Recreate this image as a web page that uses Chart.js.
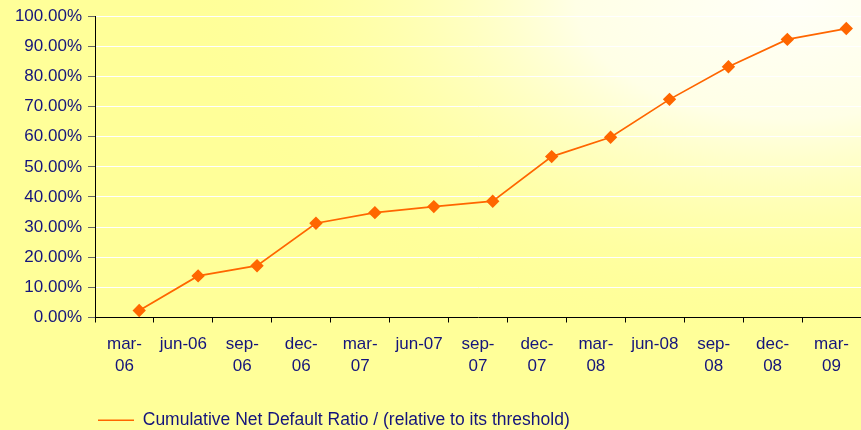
<!DOCTYPE html>
<html><head><meta charset="utf-8">
<script src="https://cdn.jsdelivr.net/npm/chart.js@4/dist/chart.umd.min.js"></script>
<style>html,body{margin:0;padding:0;background:#FFFF99;overflow:hidden}</style>
</head><body><canvas id="c" width="861" height="430"></canvas>
<script>
const categories = [["mar-","06"],"jun-06",["sep-","06"],["dec-","06"],["mar-","07"],"jun-07",["sep-","07"],["dec-","07"],["mar-","08"],"jun-08",["sep-","08"],["dec-","08"],["mar-","09"]];
const seriesName = "Cumulative Net Default Ratio / (relative to its threshold)";
const cndrValues = [0.023,0.138,0.172,0.313,0.348,0.368,0.386,0.534,0.598,0.724,0.832,0.923,0.959];
const yMin = 0, yMax = 1, yStep = 0.1;

const textColor = '#14147C';
const lineColor = '#FF6600';
const fontFamily = '"Liberation Sans", Arial, sans-serif';

const bgPlugin = {
  id: 'bg',
  beforeDraw(chart) {
    const ctx = chart.ctx, w = chart.width, h = chart.height;
    ctx.save();
    ctx.fillStyle = '#FFFF99';
    ctx.fillRect(0, 0, w, h);
    ctx.translate(790, 0);
    ctx.scale(1.8, 1);
    const g = ctx.createRadialGradient(0, 0, 0, 0, 0, 340);
    g.addColorStop(0, '#FFFFF8');
    g.addColorStop(0.35, '#FFFFE6');
    g.addColorStop(1, 'rgba(255,255,153,0)');
    ctx.fillStyle = g;
    ctx.fillRect(-500, -10, 1000, 450);
    ctx.restore();
  }
};

new Chart(document.getElementById('c'), {
  type: 'line',
  data: {
    labels: categories,
    datasets: [{
      label: seriesName,
      data: cndrValues.map((v, i) => ({x: i, y: v})),
      xAxisID: 'xp',
      borderColor: lineColor,
      backgroundColor: lineColor,
      borderWidth: 1.7,
      pointStyle: 'rectRot',
      pointRadius: 5.5,
      pointHoverRadius: 5.5,
      pointBackgroundColor: lineColor,
      pointBorderColor: lineColor,
      tension: 0,
      fill: false
    }]
  },
  options: {
    responsive: false,
    animation: false,
    layout: {autoPadding: false, padding: {left: 0, right: 0, top: 14, bottom: -9}},
    plugins: {
      tooltip: {enabled: false},
      legend: {
        position: 'bottom',
        align: 'start',
        fullSize: false,
        labels: {
          usePointStyle: true,
          pointStyle: 'line',
          pointStyleWidth: 36,
          color: textColor,
          font: {family: fontFamily, size: 17.5},
          padding: 3
        }
      }
    },
    scales: {
      x: {
        type: 'category',
        position: 'bottom',
        offset: true,
        grid: {offset: true, drawOnChartArea: false, tickLength: 5, tickColor: '#000', lineWidth: 1},
        border: {color: '#000', width: 1},
        ticks: {color: textColor, font: {family: fontFamily, size: 17, lineHeight: 1.3}, padding: 10.5, maxRotation: 0, autoSkip: false},
        afterFit(s) { s.height = 91; s.paddingLeft = 0; s.paddingRight = 0; }
      },
      xp: {
        type: 'linear',
        display: false,
        min: -0.75,
        max: 12.25
      },
      y: {
        min: yMin, max: yMax,
        ticks: {
          stepSize: yStep,
          color: textColor,
          font: {family: fontFamily, size: 17},
          padding: 6,
          callback: v => (v * 100).toFixed(2) + '%'
        },
        grid: {
          color: c => (c.tick && c.tick.value === 0) ? 'rgba(0,0,0,0)' : '#FFFFFF',
          tickColor: '#666',
          tickLength: 7,
          lineWidth: 1
        },
        border: {color: '#000', width: 1},
        afterFit(s) { s.width = 95; }
      }
    }
  },
  plugins: [bgPlugin]
});
</script>
</body></html>
